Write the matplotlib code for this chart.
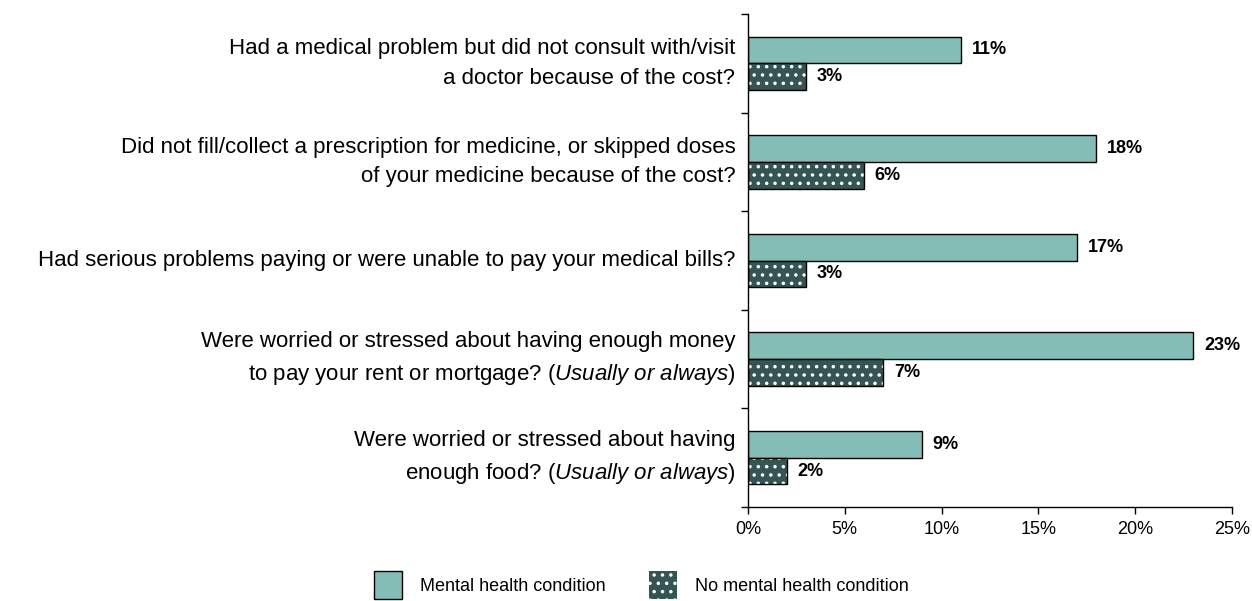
import numpy as np
import matplotlib
matplotlib.use("Agg")
import matplotlib.pyplot as plt
from matplotlib.patches import Patch

FONT = "Liberation Sans"
plt.rcParams["font.family"] = [FONT, "DejaVu Sans"]
plt.rcParams["mathtext.fontset"] = "custom"
plt.rcParams["mathtext.rm"] = FONT
plt.rcParams["mathtext.it"] = FONT + ":italic"
plt.rcParams["hatch.linewidth"] = 1.3

questions = [
    "Had a medical problem but did not consult with/visit\na doctor because of the cost?",
    "Did not fill/collect a prescription for medicine, or skipped doses\nof your medicine because of the cost?",
    "Had serious problems paying or were unable to pay your medical bills?",
    "Were worried or stressed about having enough money\nto pay your rent or mortgage? ($\\it{Usually\\ or\\ always}$)",
    "Were worried or stressed about having\nenough food? ($\\it{Usually\\ or\\ always}$)",
]
mental = [11, 18, 17, 23, 9]
no_mental = [3, 6, 3, 7, 2]
series_names = ["Mental health condition", "No mental health condition"]
x_ticks = [0, 5, 10, 15, 20, 25]

green = "#84bdb5"
dark = "#345553"

fig = plt.figure(figsize=(12.52, 6.01), dpi=100)
ax = fig.add_axes([0.5974, 0.1564, 0.3866, 0.8203])

y = np.arange(len(questions))
h = 0.27

ax.barh(y - h / 2, mental, height=h, color=green,
        edgecolor="black", linewidth=1.0)
# dotted bars: white dots first, black outline on top
ax.barh(y + h / 2, no_mental, height=h, color=dark,
        edgecolor="white", linewidth=0, hatch="..")
ax.barh(y + h / 2, no_mental, height=h, color="none",
        edgecolor="black", linewidth=1.0)

for i in range(len(questions)):
    ax.text(mental[i] + 0.55, y[i] - h / 2, f"{mental[i]}%",
            va="center", ha="left", fontsize=13, fontweight="bold")
    ax.text(no_mental[i] + 0.55, y[i] + h / 2, f"{no_mental[i]}%",
            va="center", ha="left", fontsize=13, fontweight="bold")

ax.set_xlim(0, 25)
ax.set_ylim(len(questions) - 0.5, -0.5)
ax.set_xticks(x_ticks)
ax.set_xticklabels([f"{t}%" for t in x_ticks], fontsize=13)
ax.set_yticks(y)
ax.set_yticklabels(questions, fontsize=16, ha="right", va="center", linespacing=1.55)
ax.set_yticks(np.arange(len(questions) + 1) - 0.5, minor=True)
ax.tick_params(axis="y", which="major", length=0, pad=9)
ax.tick_params(axis="y", which="minor", length=5, width=1.0, direction="out")
ax.tick_params(axis="x", length=5, width=1.0, direction="out", pad=5)

for s in ["top", "right"]:
    ax.spines[s].set_visible(False)
for s in ["left", "bottom"]:
    ax.spines[s].set_linewidth(1.0)

handles = [
    Patch(facecolor=green, edgecolor="black", linewidth=1.0),
    Patch(facecolor=dark, edgecolor="white", linewidth=0, hatch=".."),
]
fig.legend(handles, series_names, loc="upper left", bbox_to_anchor=(0.2987, 0.0499),
           ncol=2, frameon=False, fontsize=13, handlelength=1.55, handleheight=2.0,
           columnspacing=2.4, handletextpad=1.0, borderpad=0, borderaxespad=0)

fig.savefig("out.png", dpi=100)
